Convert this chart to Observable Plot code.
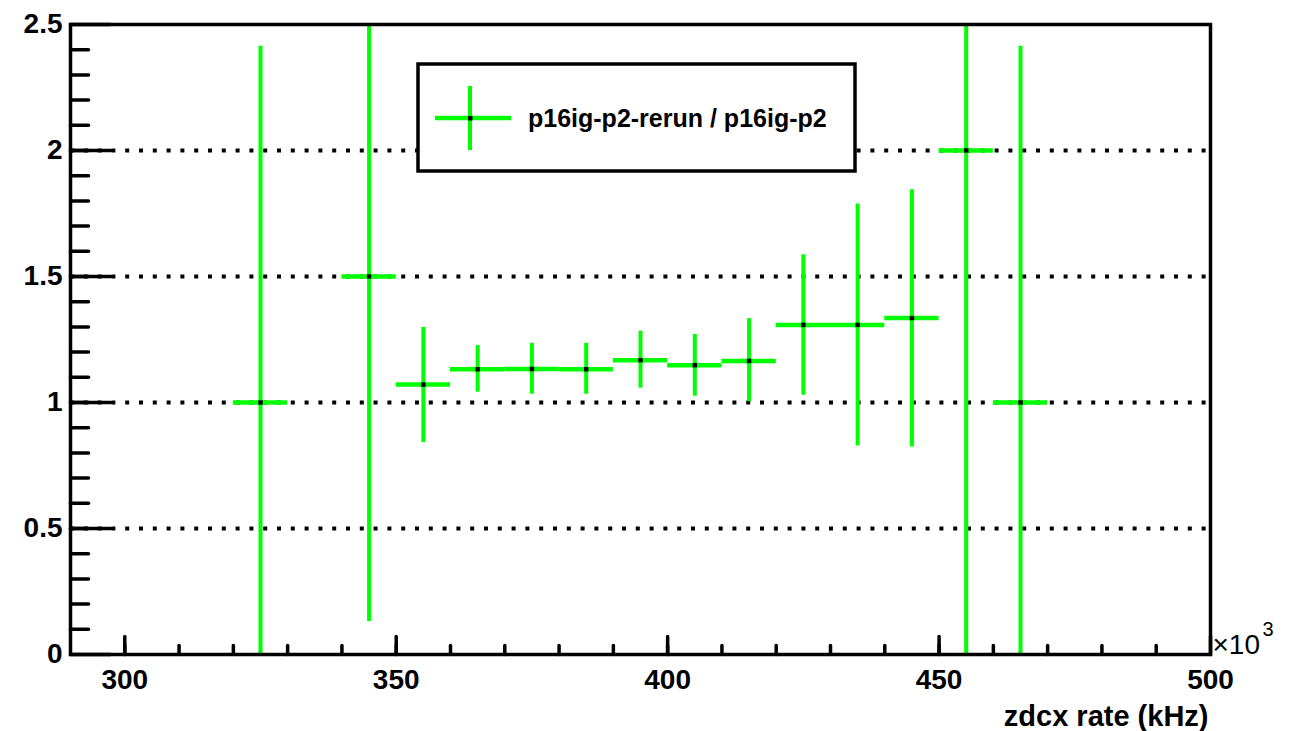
<!DOCTYPE html>
<html>
<head>
<meta charset="utf-8">
<script src="https://cdn.jsdelivr.net/npm/d3@7"></script>
<script src="https://cdn.jsdelivr.net/npm/@observablehq/plot@0.6"></script>
<style>
  html, body { margin: 0; padding: 0; background: #fff; }
  svg { overflow: visible; }
</style>
</head>
<body>
<div id="chart"></div>
<script>
// ---- data ----
const binCenters = [325, 345, 355, 365, 375, 385, 395, 405, 415, 425, 435, 445, 455, 465];
const binHalfWidth = 5;
const ratioValues = [1.0, 1.5, 1.071, 1.132, 1.133, 1.132, 1.168, 1.148, 1.165, 1.308, 1.308, 1.335, 2.0, 1.0];
const errLow  = [-0.414, 0.131, 0.841, 1.041, 1.033, 1.033, 1.057, 1.025, 1.003, 1.029, 0.827, 0.823, -0.83, -0.414];
const errHigh = [2.414, 2.87, 1.298, 1.226, 1.235, 1.235, 1.283, 1.270, 1.333, 1.586, 1.788, 1.844, 4.83, 2.414];

const xTickLabels = [300, 350, 400, 450, 500];
const xMinorTicks = d3.range(300, 500, 10);
const yTickLabels = [0, 0.5, 1, 1.5, 2, 2.5];
const yMinorTicks = d3.range(1, 25).map(i => i / 10);
const yGridLines = [0.5, 1, 1.5, 2];
const legendLabel = "p16ig-p2-rerun / p16ig-p2";
const xAxisTitle = "zdcx rate (kHz)";

const rows = binCenters.map((c, i) => ({
  x: c, x1: c - binHalfWidth, x2: c + binHalfWidth,
  y: ratioValues[i], lo: errLow[i], hi: errHigh[i]
}));

const GREEN = "#00ff00";
const FONT = "'Liberation Sans', Arial, Helvetica, sans-serif";
const tickShape = { draw(ctx, l) { ctx.moveTo(0, 0); ctx.lineTo(0, -l); } };

const chart = Plot.plot({
  width: 1291,
  height: 731,
  marginLeft: 70,
  marginRight: 81,
  marginTop: 24,
  marginBottom: 77,
  style: { fontFamily: FONT, background: "white" },
  x: { domain: [290, 500], axis: null },
  y: { domain: [0, 2.5], axis: null },
  marks: [
    // dotted horizontal grid
    Plot.ruleY(yGridLines, { stroke: "black", strokeWidth: 4, strokeDasharray: "4,9.8" }),
    // x ticks (inward)
    Plot.vector(xMinorTicks, { x: d => d, y: 0, length: 9, rotate: 0, anchor: "start", shape: tickShape, stroke: "black", strokeWidth: 3.5 }),
    Plot.vector(xTickLabels, { x: d => d, y: 0, length: 18, rotate: 0, anchor: "start", shape: tickShape, stroke: "black", strokeWidth: 3.5 }),
    // y ticks (inward)
    Plot.vector(yMinorTicks, { x: 290, y: d => d, length: 18, rotate: 90, anchor: "start", shape: tickShape, stroke: "black", strokeWidth: 3.5 }),
    Plot.vector(yTickLabels, { x: 290, y: d => d, length: 40, rotate: 90, anchor: "start", shape: tickShape, stroke: "black", strokeWidth: 3.5 }),
    // error bars
    Plot.ruleX(rows, { x: "x", y1: "lo", y2: "hi", stroke: GREEN, strokeWidth: 4, clip: true }),
    Plot.ruleY(rows, { y: "y", x1: "x1", x2: "x2", stroke: GREEN, strokeWidth: 4.5, clip: true }),
    Plot.dot(rows, { x: "x", y: "y", symbol: "square", r: 2.5, fill: "black", stroke: null }),
    // frame
    Plot.frame({ stroke: "black", strokeWidth: 3.5 }),
    // tick labels
    Plot.text(xTickLabels, { x: d => d, y: 0, text: d => String(d), dy: 26, fontSize: 28, fontWeight: "bold", fill: "black", textAnchor: "middle", lineAnchor: "middle" }),
    Plot.text(yTickLabels, { x: 290, y: d => d, text: d => String(d), dx: -8, fontSize: 28, fontWeight: "bold", fill: "black", textAnchor: "end", lineAnchor: "middle" }),
    // axis title
    Plot.text([xAxisTitle], { frameAnchor: "bottom-right", text: d => d, dy: 62, dx: -2, fontSize: 29, fontWeight: "bold", fill: "black", textAnchor: "end", lineAnchor: "middle" }),
    // exponent
    Plot.text(["\u00d710"], { frameAnchor: "bottom-right", text: d => d, dx: 2, dy: -9, fontSize: 28, fill: "black", textAnchor: "start", lineAnchor: "middle" }),
    Plot.text(["3"], { frameAnchor: "bottom-right", text: d => d, dx: 52, dy: -25, fontSize: 20, fill: "black", textAnchor: "start", lineAnchor: "middle" })
  ]
});

document.getElementById("chart").appendChild(chart);

// legend box drawn on top
const svg = d3.select(chart);
const lg = svg.append("g").attr("class", "legend");
lg.append("rect").attr("x", 418).attr("y", 64).attr("width", 437).attr("height", 107)
  .attr("fill", "white").attr("stroke", "black").attr("stroke-width", 3.5);
lg.append("line").attr("x1", 435).attr("x2", 511).attr("y1", 118).attr("y2", 118)
  .attr("stroke", GREEN).attr("stroke-width", 4.5);
lg.append("line").attr("x1", 470).attr("x2", 470).attr("y1", 86).attr("y2", 150)
  .attr("stroke", GREEN).attr("stroke-width", 4);
lg.append("rect").attr("x", 468).attr("y", 116).attr("width", 4.5).attr("height", 4.5).attr("fill", "black");
lg.append("text").attr("x", 528).attr("y", 127).attr("font-family", FONT).attr("font-size", 25)
  .attr("font-weight", "bold").attr("fill", "black").attr("text-anchor", "start").text(legendLabel);
</script>
</body>
</html>
